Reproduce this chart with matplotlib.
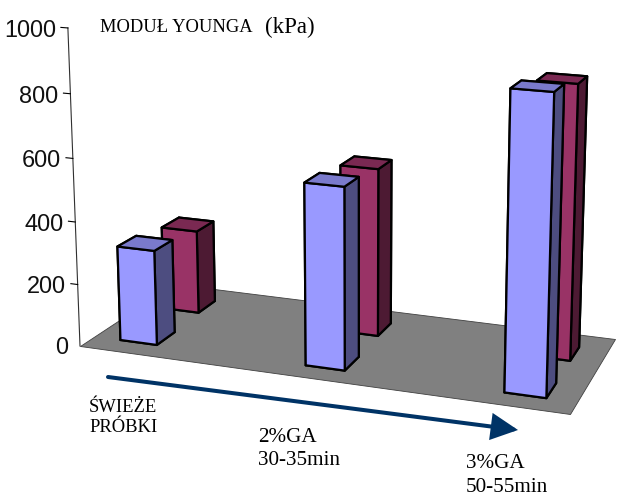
import numpy as np
import matplotlib
matplotlib.use("Agg")
import matplotlib.pyplot as plt
from matplotlib.patches import FancyArrowPatch
from mpl_toolkits.mplot3d.art3d import Poly3DCollection
from mpl_toolkits.mplot3d.proj3d import proj_transform

W, H = 621, 502

# wartosci (kPa)
blue_values = [306, 573, 909]
maroon_values = [279, 550, 873]
blue_positions = [0.099, 0.500, 0.901]
maroon_positions = [0.093, 0.496, 0.900]
z_ticks = [0, 200, 400, 600, 800, 1000]

BLUE = ["#4d4d80", "#7a7acc", "#9999ff", "#9999ff", "#4d4d80", "#4d4d80"]
MAROON = ["#4d1a33", "#7a2952", "#993366", "#993366", "#4d1a33", "#4d1a33"]
BAR_W = 0.081

# kamera: rogi podlogi w pikselach + punkt zbiegu pionu
floor_px = np.array([[80, 347], [570, 415], [615, 340], [174, 285]], float)
floor_xy = np.array([[0, 0], [1, 0], [1, 1], [0, 1]], float)
vp = (360, 7700)
lam = -0.04146 / 1000


def camera():
    A, b = [], []
    for (x, y), (u, v) in zip(floor_xy, floor_px):
        A.append([x, y, 1, 0, 0, 0, -u * x, -u * y])
        b.append(u)
        A.append([0, 0, 0, x, y, 1, -v * x, -v * y])
        b.append(v)
    h = np.linalg.solve(np.array(A), np.array(b))
    return np.array([
        [h[0], h[1], vp[0] * lam, h[2]],
        [h[3], h[4], vp[1] * lam, h[5]],
        [-1.0, 1.0, -0.001, 0.0],
        [h[6], h[7], lam, 1.0],
    ])


fig = plt.figure(figsize=(W / 100, H / 100), dpi=100)
ax = fig.add_axes([0, 0, 1, W / H], projection="3d")
ax.set_axis_off()
ax.computed_zorder = False

# piksele -> wspolrzedne 2D osi
x0, x1 = ax.viewLim.intervalx
y0, y1 = ax.viewLim.intervaly
sx = (x1 - x0) / W
sy = (y1 - y0) / W
S = np.array([
    [sx, 0, 0, x0],
    [0, -sy, 0, y0 + H * sy],
    [0, 0, 1, 0],
    [0, 0, 0, 1],
])
M = S @ camera()
ax.get_proj = lambda: M

floor = Poly3DCollection([[(0, 0, 0), (1, 0, 0), (1, 1, 0), (0, 1, 0)]],
                         facecolor="#808080", edgecolor="#404040", linewidth=0.6, zorder=1)
ax.add_collection3d(floor)

for i in range(3):
    ax.bar3d(maroon_positions[i] - BAR_W / 2, 0.63, 0, BAR_W, 0.195, maroon_values[i], color=MAROON,
             edgecolor="k", linewidth=1.6, shade=False, zorder=2)
    ax.bar3d(blue_positions[i] - BAR_W / 2, 0.14, 0, BAR_W, 0.19, blue_values[i], color=BLUE,
             edgecolor="k", linewidth=1.6, shade=False, zorder=3)

# os pionowa
ax.plot([0, 0], [0, 0], [0, 1000], color="#303030", linewidth=0.8, zorder=4)
for t in z_ticks:
    ax.plot([-0.015, 0], [0, 0], [t, t], color="k", linewidth=0.8, zorder=4)
    lx, ly, _ = proj_transform(-0.026, 0, t, M)
    ax.text2D(lx, ly, str(t), transform=ax.transData, ha="right", va="center_baseline",
              fontsize=16.9, family="Liberation Sans", color="#111111", zorder=5)

serif = "Liberation Serif"


def label(x, y, s, size):
    fig.text(x / W, 1 - y / H, s, fontsize=size, family=serif, ha="left", va="baseline")


label(100, 32, "MODUŁ YOUNGA", 13.3)
label(265, 33, "(kPa)", 16.5)
label(89, 412, "ŚWIEŻE", 13.4)
label(89, 432, "PRÓBKI", 13.4)
label(258, 442, "2%GA", 15.2)
label(258, 465, "30-35min", 15.2)
label(466, 468, "3%GA", 15.2)
label(466, 492, "50-55min", 15.2)

arrow = FancyArrowPatch((108 / W, 1 - 378 / H), (518 / W, 1 - 431 / H),
                        transform=fig.transFigure, color="#003366", linewidth=2.9,
                        arrowstyle="-|>,head_length=15,head_width=7.5", mutation_scale=1,
                        shrinkA=0, shrinkB=0, joinstyle="miter")
fig.add_artist(arrow)

fig.savefig("out.png", dpi=100)
